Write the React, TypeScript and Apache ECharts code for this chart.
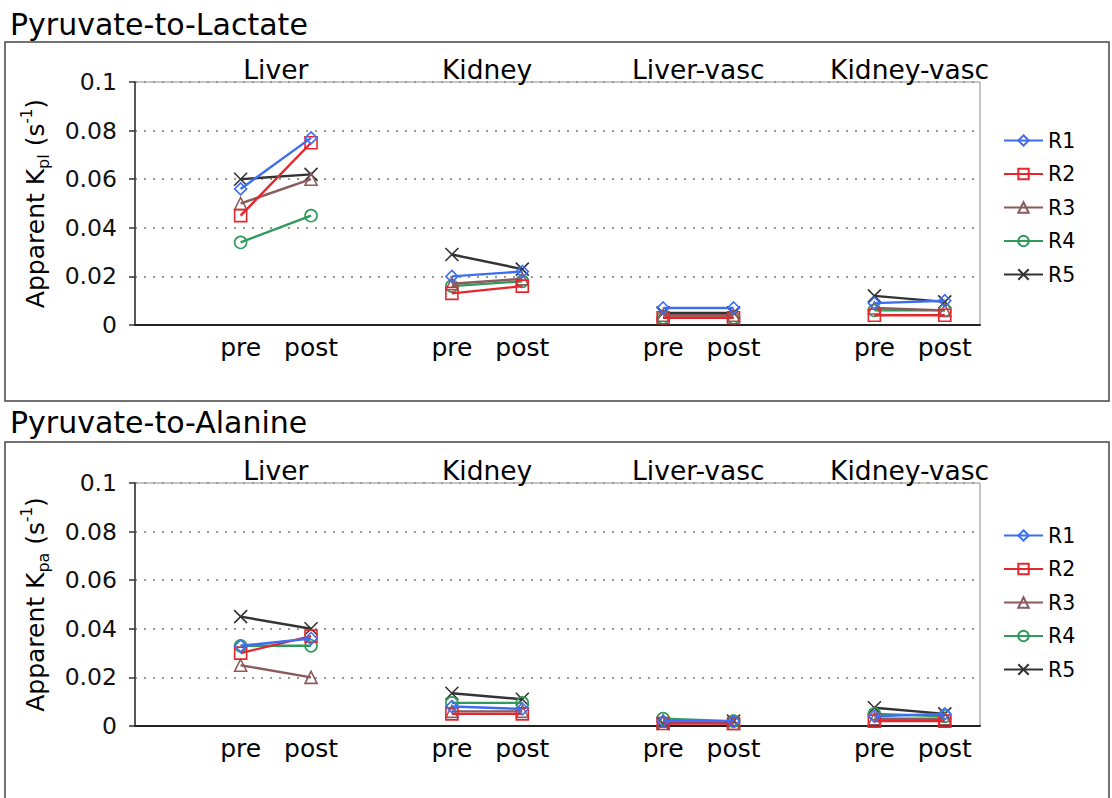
import React, { useEffect, useRef } from 'react';
import * as echarts from 'echarts';

const FONT = '"DejaVu Sans", Verdana, sans-serif';

const regions = ['Liver', 'Kidney', 'Liver-vasc', 'Kidney-vasc'];
const phases = ['pre', 'post'];
const seriesNames = ['R1', 'R2', 'R3', 'R4', 'R5'];
const seriesColors = ['#3d6ef2', '#e5262c', '#8a5a5c', '#2e9a5c', '#333333'];
const seriesSymbols = ['diamond', 'rect', 'triangle', 'circle', 'path://M0,0L10,10M0,10L10,0'];
const yTicks = [0, 0.02, 0.04, 0.06, 0.08, 0.1];

const panelTitles = ['Pyruvate-to-Lactate', 'Pyruvate-to-Alanine'];
const yNameSubs = ['pl', 'pa'];

// values ordered: Liver pre, Liver post, Kidney pre, Kidney post, Liver-vasc pre, post, Kidney-vasc pre, post
const lactateR1 = [0.056, 0.077, 0.020, 0.022, 0.007, 0.007, 0.009, 0.010];
const lactateR2 = [0.045, 0.075, 0.013, 0.016, 0.003, 0.003, 0.004, 0.004];
const lactateR3 = [0.050, 0.060, 0.017, 0.019, 0.004, 0.004, 0.007, 0.006];
const lactateR4 = [0.034, 0.045, 0.016, 0.018, 0.003, 0.003, 0.006, 0.006];
const lactateR5 = [0.060, 0.062, 0.029, 0.023, 0.005, 0.005, 0.012, 0.0095];

const alanineR1 = [0.033, 0.036, 0.008, 0.007, 0.002, 0.002, 0.004, 0.005];
const alanineR2 = [0.030, 0.037, 0.005, 0.005, 0.001, 0.001, 0.002, 0.002];
const alanineR3 = [0.025, 0.020, 0.006, 0.006, 0.002, 0.001, 0.003, 0.003];
const alanineR4 = [0.033, 0.033, 0.0095, 0.0095, 0.003, 0.002, 0.005, 0.004];
const alanineR5 = [0.045, 0.040, 0.0135, 0.011, 0.001, 0.002, 0.0075, 0.005];

const lactateSeries = [lactateR1, lactateR2, lactateR3, lactateR4, lactateR5];
const alanineSeries = [alanineR1, alanineR2, alanineR3, alanineR4, alanineR5];
const panels = [lactateSeries, alanineSeries];

// slot layout on x axis: each region takes 6 slots; pre at 3, label at 4, post at 5
const SLOTS = 6;
const preSlot = (g: number) => g * SLOTS + 3;
const postSlot = (g: number) => g * SLOTS + 5;
const midSlot = (g: number) => g * SLOTS + 4;
const X_MAX = regions.length * SLOTS;

function phaseLabel(v: number): string {
  for (let g = 0; g < regions.length; g++) {
    if (Math.abs(v - preSlot(g)) < 1e-6) return phases[0];
    if (Math.abs(v - postSlot(g)) < 1e-6) return phases[1];
  }
  return '';
}
function regionLabel(v: number): string {
  for (let g = 0; g < regions.length; g++) {
    if (Math.abs(v - midSlot(g)) < 1e-6) return regions[g];
  }
  return '';
}

function buildData(vals: number[]) {
  const out: any[] = [];
  for (let g = 0; g < regions.length; g++) {
    out.push([preSlot(g), vals[2 * g]]);
    out.push([postSlot(g), vals[2 * g + 1]]);
    if (g < regions.length - 1) out.push([postSlot(g) + 1, '-']);
  }
  return out;
}

export default function App() {
  const ref = useRef<HTMLDivElement>(null);
  useEffect(() => {
    if (!ref.current) return;
    const chart = echarts.init(ref.current, null, { renderer: 'svg' });
    const gridTops = [82, 483];
    const grids = gridTops.map((t) => ({
      left: 135,
      top: t,
      width: 845,
      height: 243,
      show: true,
      borderColor: '#8a8a8a',
      borderWidth: 1,
      backgroundColor: 'transparent',
    }));
    const xAxes: any[] = [];
    gridTops.forEach((_, p) => {
      xAxes.push({
        type: 'value',
        gridIndex: p,
        position: 'bottom',
        min: 0,
        max: X_MAX,
        interval: 1,
        axisLine: { show: true, onZero: false, lineStyle: { color: '#222', width: 2 } },
        axisTick: { show: false },
        splitLine: { show: false },
        axisLabel: {
          formatter: (v: number) => phaseLabel(v),
          fontSize: 25,
          color: '#000',
          margin: 10,
          fontFamily: FONT,
        },
      });
      xAxes.push({
        type: 'value',
        gridIndex: p,
        position: 'top',
        min: 0,
        max: X_MAX,
        interval: 1,
        axisLine: { show: false },
        axisTick: { show: false },
        splitLine: { show: false },
        axisLabel: {
          formatter: (v: number) => regionLabel(v),
          fontSize: 26.5,
          color: '#000',
          margin: -1,
          fontFamily: FONT,
        },
      });
    });
    const yAxes = gridTops.map((_, p) => ({
      type: 'value',
      gridIndex: p,
      min: yTicks[0],
      max: yTicks[yTicks.length - 1],
      interval: yTicks[1] - yTicks[0],
      axisLine: { show: true, lineStyle: { color: '#333', width: 1.5 } },
      axisTick: { show: true, length: 6, lineStyle: { color: '#333', width: 1.5 } },
      splitLine: { show: true, lineStyle: { type: [2, 7], color: '#9a9a9a', width: 1.8 } },
      axisLabel: {
        fontSize: 23.5,
        color: '#111',
        margin: 18,
        fontFamily: FONT,
        formatter: (v: number) => String(parseFloat(v.toFixed(4))),
      },
      name: `{m|Apparent K}{sub|${yNameSubs[p]}}{m| (s}{sup|-1}{m|)}`,
      nameLocation: 'middle',
      nameRotate: 90,
      nameGap: 84,
      nameTextStyle: {
        rich: {
          m: { fontSize: 25, fontFamily: FONT, color: '#000', lineHeight: 32 },
          sub: { fontSize: 16, fontFamily: FONT, color: '#000', lineHeight: 16, verticalAlign: 'bottom' },
          sup: { fontSize: 15, fontFamily: FONT, color: '#000', lineHeight: 24, verticalAlign: 'top' },
        },
      },
    }));

    const series: any[] = [];
    panels.forEach((panel, p) => {
      panel.forEach((vals, i) => {
        const c = seriesColors[i];
        const isCross = i === 4;
        series.push({
          name: seriesNames[i],
          type: 'line',
          xAxisIndex: p * 2,
          yAxisIndex: p,
          data: buildData(vals),
          connectNulls: false,
          symbol: seriesSymbols[i],
          symbolSize: isCross ? 13 : 12,
          showAllSymbol: true,
          lineStyle: { color: c, width: 2.4 },
          itemStyle: {
            color: isCross ? c : 'rgba(255,255,255,0)',
            borderColor: c,
            borderWidth: 1.6,
          },
          z: 3 + (4 - i),
        });
      });
    });

    const legendTops = [125, 520];
    const legends = legendTops.map((t) => ({
      orient: 'vertical',
      left: 998,
      top: t,
      itemWidth: 39,
      itemHeight: 13,
      itemGap: 12.5,
      textStyle: { fontSize: 20.5, lineHeight: 21, color: '#000', fontFamily: FONT },
      data: seriesNames,
    }));

    const graphics: any[] = [
      {
        type: 'rect',
        shape: { x: 5, y: 42, width: 1104, height: 359 },
        style: { fill: 'none', stroke: '#444', lineWidth: 1.5 },
        silent: true,
      },
      {
        type: 'rect',
        shape: { x: 5, y: 442, width: 1104, height: 420 },
        style: { fill: 'none', stroke: '#444', lineWidth: 1.5 },
        silent: true,
      },
      {
        type: 'text',
        left: 10,
        top: 9,
        style: { text: panelTitles[0], fontSize: 30, fontFamily: FONT, fill: '#000' },
      },
      {
        type: 'text',
        left: 10,
        top: 407,
        style: { text: panelTitles[1], fontSize: 30, fontFamily: FONT, fill: '#000' },
      },
    ];

    chart.setOption({
      animation: false,
      backgroundColor: '#fff',
      textStyle: { fontFamily: FONT },
      grid: grids,
      xAxis: xAxes,
      yAxis: yAxes,
      legend: legends,
      series,
      graphic: graphics,
    });
    return () => chart.dispose();
  }, []);
  return (
    <div
      ref={ref}
      style={{ position: 'absolute', left: 0, top: 0, width: 1112, height: 798, background: '#fff' }}
    />
  );
}
